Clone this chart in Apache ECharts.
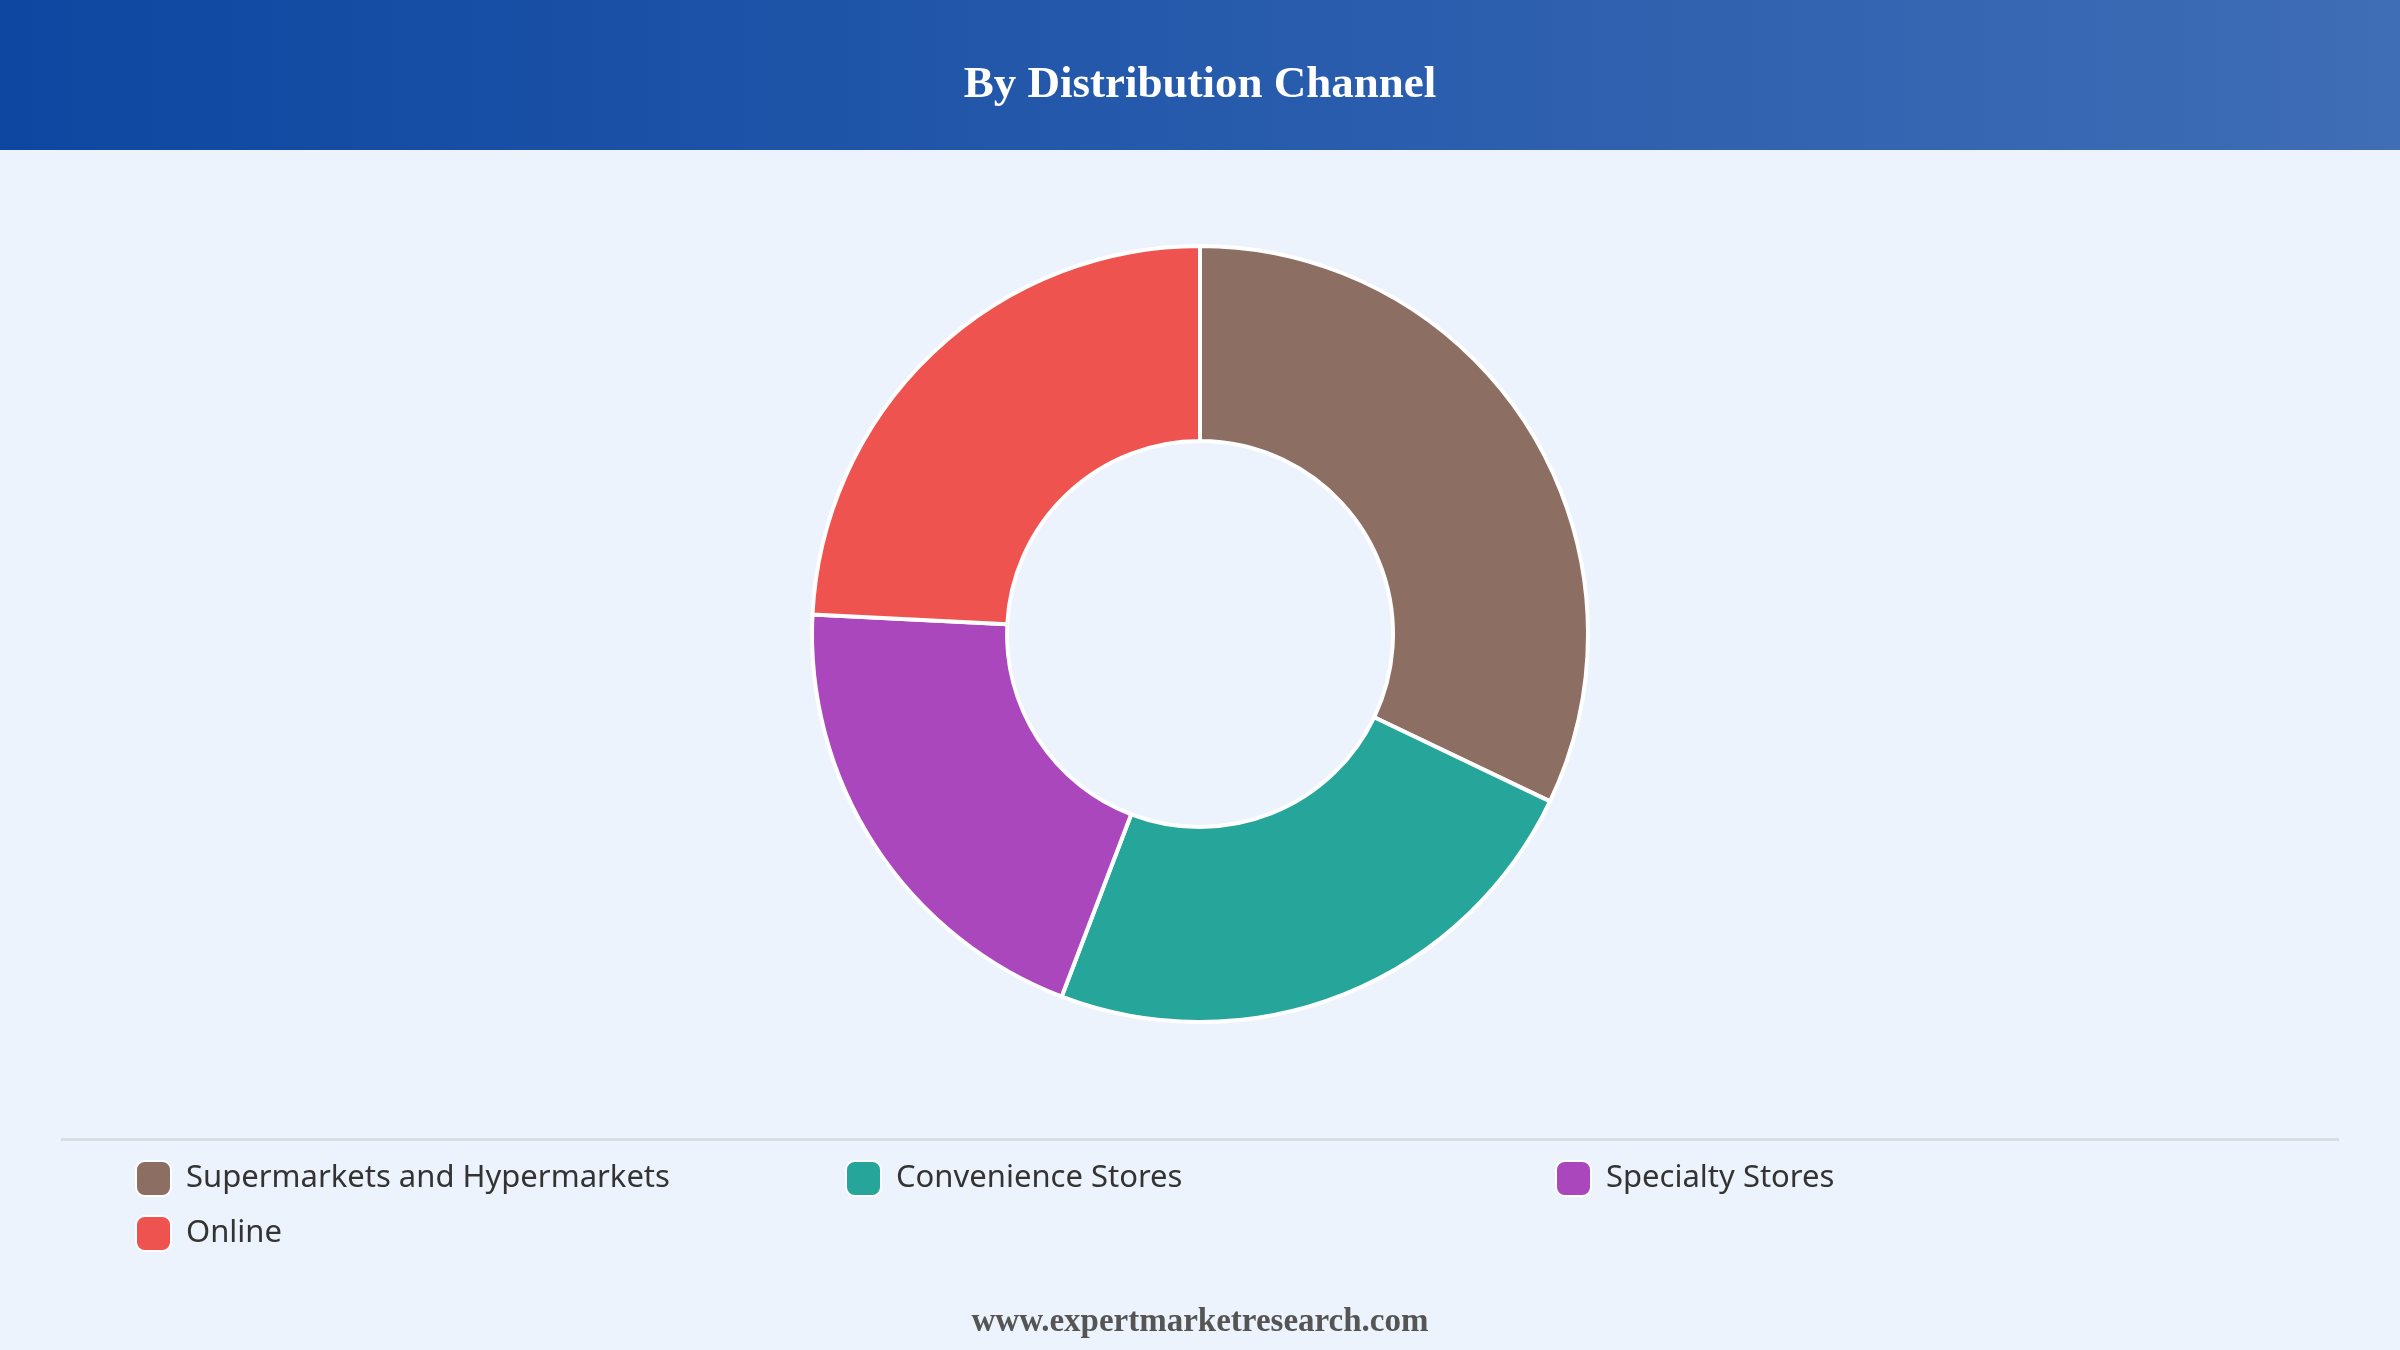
<!DOCTYPE html>
<html>
<head>
<meta charset="utf-8">
<script src="https://cdn.jsdelivr.net/npm/echarts@6/dist/echarts.min.js"></script>
<style>
  html, body { margin: 0; padding: 0; background: #ecf3fc; }
  #chart { width: 2400px; height: 1350px; }
</style>
</head>
<body>
<div id="chart"></div>
<script>
const titleText = 'By Distribution Channel';
const footerText = 'www.expertmarketresearch.com';
const categories = ['Supermarkets and Hypermarkets', 'Convenience Stores', 'Specialty Stores', 'Online'];
const shares = [32.1, 23.7, 20.0, 24.2];
const colors = ['#8d6e63', '#26a69a', '#ab47bc', '#ef5350'];
// legend columns (grid layout, 3 per row)
const legendColumns = [
  [categories[0], categories[3]],
  [categories[1]],
  [categories[2]]
];

const chart = echarts.init(document.getElementById('chart'), null, { renderer: 'canvas' });

const colLeft = [135, 845, 1555];
const legendBase = {
  orient: 'vertical',
  top: 1160,
  padding: 0,
  itemWidth: 35,
  itemHeight: 35,
  itemGap: 18,
  icon: 'roundRect',
  selectedMode: false,
  textStyle: {
    fontFamily: '"Noto Sans", "Open Sans", sans-serif',
    fontSize: 31,
    color: '#333333',
    padding: [0, 0, 0, 10]
  }
};

const option = {
  backgroundColor: '#ecf3fc',
  animation: false,
  color: colors,
  title: {
    text: titleText,
    left: 'center',
    top: 63,
    padding: 0,
    textStyle: {
      fontFamily: '"Liberation Serif", "Times New Roman", serif',
      fontWeight: 'bold',
      fontSize: 45,
      color: '#ffffff'
    }
  },
  graphic: [
    {
      type: 'rect',
      z: -10,
      shape: { x: 0, y: 0, width: 2400, height: 150 },
      style: {
        fill: new echarts.graphic.LinearGradient(0, 0, 1, 0, [
          { offset: 0, color: '#0d47a1' },
          { offset: 1, color: '#3f6db6' }
        ])
      }
    },
    {
      type: 'rect',
      shape: { x: 61, y: 1138, width: 2278, height: 3 },
      style: { fill: '#d9dee4' }
    },
    {
      type: 'text',
      x: 1200,
      y: 1322,
      style: {
        text: footerText,
        align: 'center',
        verticalAlign: 'middle',
        fontFamily: '"Liberation Serif", "Times New Roman", serif',
        fontWeight: 'bold',
        fontSize: 33,
        fill: '#555555'
      }
    }
  ],
  legend: legendColumns.map((col, i) => Object.assign({}, legendBase, { data: col, left: colLeft[i] })),
  series: [
    {
      type: 'pie',
      center: [1200, 634],
      radius: [193, 388],
      startAngle: 90,
      clockwise: true,
      avoidLabelOverlap: false,
      label: { show: false },
      labelLine: { show: false },
      emphasis: { disabled: true },
      itemStyle: { borderColor: '#ffffff', borderWidth: 4 },
      data: categories.map((name, i) => ({ name: name, value: shares[i] }))
    }
  ]
};

chart.setOption(option);
</script>
</body>
</html>
